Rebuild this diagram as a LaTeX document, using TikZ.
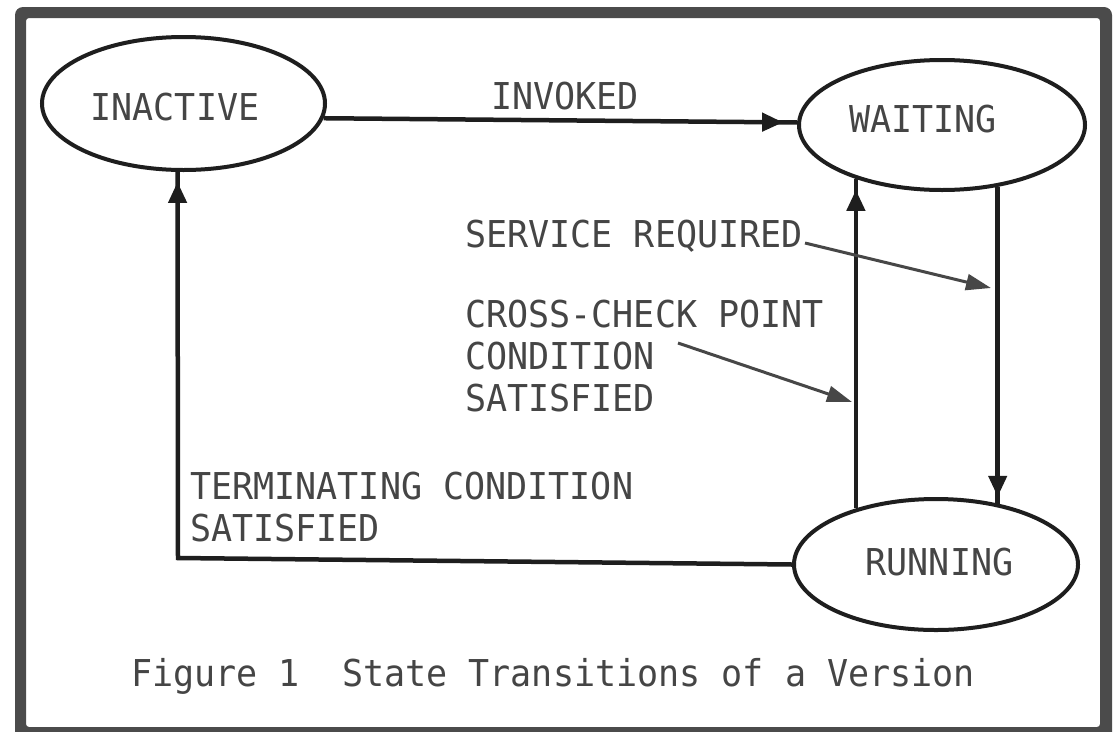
\documentclass[tikz,border=0pt]{standalone}
\usepackage{fontspec}
\newfontfamily\monof{DejaVu Sans Mono}[FakeStretch=0.947]
\usetikzlibrary{arrows.meta,shapes.geometric,decorations.markings}
\definecolor{frameg}{HTML}{4B4B4B}
\definecolor{inkc}{HTML}{1E1E1E}
\definecolor{txtc}{HTML}{454545}
\begin{document}
\begin{tikzpicture}[x=1pt,y=-1pt,
  state/.style={ellipse, draw=inkc, line width=4pt, inner sep=0pt},
  lblc/.style={font=\monof\fontsize{37}{42}\selectfont, text=txtc, inner sep=0pt},
  lbl/.style={lblc, anchor=base west, align=left},
  flow/.style={draw=inkc, line width=4.5pt},
  tipnear/.style={postaction={decorate}, decoration={markings,
      mark=at position #1 with {\arrow{Triangle[length=21pt,width=18pt]}}}},
  pointer/.style={draw=black!72, line width=3pt, -{Triangle[length=25pt,width=16pt]}}
]
\useasboundingbox (0,0) rectangle (1115,731);
\clip (0,0) rectangle (1115,731);
\fill[white] (0,0) rectangle (1115,731);
\fill[frameg, even odd rule] [rounded corners=8pt] (15,7) rectangle (1112,760)
  [rounded corners=3pt] (26,18) rectangle (1100,727);

% states
\node[state, minimum width=283pt, minimum height=133pt,
  label={[lblc, xshift=-8.5pt, yshift=-4pt]center:INACTIVE}] (inactive) at (183.5,103.5) {};
\node[state, minimum width=286pt, minimum height=130pt,
  label={[lblc, xshift=-19pt, yshift=6pt]center:WAITING}] (waiting) at (942,125) {};
\node[state, minimum width=284pt, minimum height=131pt,
  label={[lblc, xshift=3.5pt, yshift=2.5pt]center:RUNNING}] (running) at (936,564.5) {};

% labels (multi-line nodes: base anchor is the last line's baseline)
\node[lbl] (invoked) at (491,109) {INVOKED};
\node[lbl] (svc) at (465,247) {SERVICE REQUIRED};
\node[lbl] (xck) at (465,411) {CROSS-CHECK POINT\\CONDITION\\SATISFIED};
\node[lbl] (term) at (190,541) {TERMINATING CONDITION\\SATISFIED};
\node[lbl] (cap) at (131,686) {Figure 1\ \ State Transitions of a Version};

% connectors
\coordinate (tc) at (178,558);
\draw[flow, tipnear=-14pt] (inactive.-6) -- (waiting.179);
\draw[flow, tipnear=-10pt] (running.west) -- (tc) -- (inactive.265);
\draw[flow, tipnear=-11pt] (running.145) -- (running.145 |- waiting.212);
\draw[flow, tipnear=-7pt] (waiting.312) -- (waiting.312 |- running.44);

% pointer arrows
\coordinate (s1) at (805,243);
\coordinate (s2) at (991,288);
\coordinate (c1) at (678,343);
\coordinate (c2) at (852,402);
\draw[pointer] (s1) -- (s2);
\draw[pointer] (c1) -- (c2);
\end{tikzpicture}
\end{document}
